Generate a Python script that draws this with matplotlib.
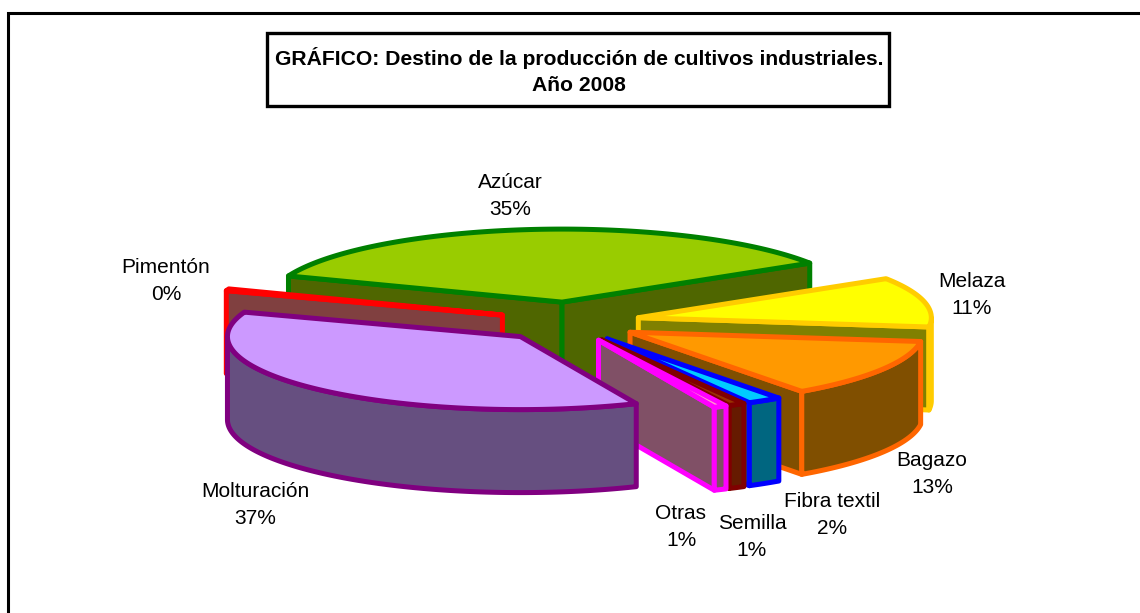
import numpy as np
import matplotlib
matplotlib.use("Agg")
import matplotlib.pyplot as plt
from matplotlib.patches import Polygon, Rectangle

plt.rcParams["font.family"] = ["Liberation Sans", "DejaVu Sans"]

# clockwise order, starting at the left edge of Azucar
categories = ["Azúcar", "Melaza", "Bagazo", "Fibra textil", "Semilla", "Otras", "Molturación", "Pimentón"]
shares = [35.2, 11.0, 13.0, 1.9, 0.9, 0.7, 36.9, 0.4]
pct_labels = ["35%", "11%", "13%", "2%", "1%", "1%", "37%", "0%"]
title_lines = ["GRÁFICO: Destino de la producción de cultivos industriales.", "Año 2008"]

top_colors = ["#99cc00", "#ffff00", "#ff9900", "#00ccff", "#993300", "#ff99cc", "#cc99ff", "#ff8080"]
wall_colors = ["#4f6600", "#808000", "#804f00", "#006680", "#661a00", "#805066", "#664f80", "#804040"]
edge_colors = ["#008000", "#ffcc00", "#ff6600", "#0000ff", "#800000", "#ff00ff", "#800080", "#ff0000"]
draw_order = [0, 7, 1, 2, 3, 4, 5, 6]
label_pos = [(510, 196), (972, 295), (932, 474), (832, 515), (752, 537), (681, 527), (255, 505), (166, 281)]

# pie geometry in pixels
CX, CY = 569, 322
RX, RY = 293, 73
DEPTH = 83
EXPLODE_X, EXPLODE_Y = 71, 20
START = 291.0
LW = 3.6


def rim(t0, t1, cx, cy):
    t = np.radians(np.linspace(t0, t1, max(int(abs(t1 - t0) * 2), 2)))
    return np.column_stack([cx + RX * np.sin(t), cy - RY * np.cos(t)])


def drop(pts):
    return pts + np.array([0, DEPTH])


fig = plt.figure(figsize=(11.4, 6.13), dpi=100)
ax = fig.add_axes([0, 0, 1, 1])
ax.set_xlim(0, 1140)
ax.set_ylim(613, 0)
ax.axis("off")


def face(pts, fc, ec, z):
    ax.add_patch(Polygon(pts, closed=True, fc=fc, ec=ec, lw=LW, joinstyle="round", zorder=z))


# outer frame is cut off at the bottom and right of the image
ax.plot([8, 8, 1140], [613, 13, 13], color="black", lw=2.2, zorder=1, solid_joinstyle="miter")

angles = START + np.concatenate([[0], np.cumsum(shares)]) * 3.6
for n, i in enumerate(draw_order):
    t0, t1 = angles[i], angles[i + 1]
    mid = np.radians((t0 + t1) / 2)
    cx = CX + EXPLODE_X * np.sin(mid)
    cy = CY - EXPLODE_Y * np.cos(mid)
    apex = np.array([[cx, cy]])
    z = 2 + n
    arc = rim(t0, t1, cx, cy)
    # cut faces that look towards the viewer
    if np.sin(np.radians(t0)) < 0:
        edge = np.vstack([apex, arc[:1]])
        face(np.vstack([edge, drop(edge)[::-1]]), wall_colors[i], edge_colors[i], z)
    if np.sin(np.radians(t1)) > 0:
        edge = np.vstack([apex, arc[-1:]])
        face(np.vstack([edge, drop(edge)[::-1]]), wall_colors[i], edge_colors[i], z)
    # outer wall, only the front half of the circle shows
    lo, hi = max(t0 % 360, 90), min(t0 % 360 + (t1 - t0), 270)
    if lo < hi:
        front = rim(lo, hi, cx, cy)
        face(np.vstack([front, drop(front)[::-1]]), wall_colors[i], edge_colors[i], z)
    face(np.vstack([apex, arc]), top_colors[i], edge_colors[i], z)

for name, pct, (x, y) in zip(categories, pct_labels, label_pos):
    ax.text(x, y, name + "\n" + pct, ha="center", va="center", fontsize=15, linespacing=1.5, color="black", zorder=30)

ax.add_patch(Rectangle((267, 33), 622, 73, fc="white", ec="black", lw=2.4, zorder=31))
ax.text(579, 71, "\n".join(title_lines), ha="center", va="center", fontsize=15.2, fontweight="bold",
        linespacing=1.42, zorder=32)

fig.savefig("out.png", dpi=100)
